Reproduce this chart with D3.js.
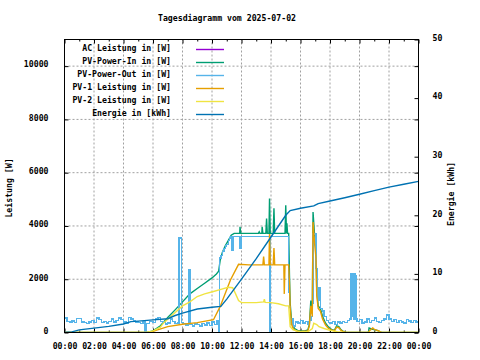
<!DOCTYPE html>
<html><head><meta charset="utf-8">
<script src="https://cdn.jsdelivr.net/npm/d3@7"></script>
<style>
body{margin:0;background:#fff}
svg text{font-family:"DejaVu Sans Mono",monospace;font-size:8.2px;font-weight:bold;fill:#000}
</style></head><body>
<svg id="c" width="480" height="360"></svg>
<script>
const title = "Tagesdiagramm vom 2025-07-02";
const yLabel = "Leistung [W]";
const y2Label = "Energie [kWh]";
const xTicks = [0,2,4,6,8,10,12,14,16,18,20,22,24];
const xMinorTicks = [1,3,5,7,9,11,13,15,17,19,21,23];
const yTicks = [0,2000,4000,6000,8000,10000];
const y2Ticks = [0,10,20,30,40,50];
const seriesNames = ["AC Leistung in [W]","PV-Power-In in [W]","PV-Power-Out in [W]","PV-1 Leistung in [W]","PV-2 Leistung in [W]","Energie in [kWh]"];
const seriesColors = ["#9400d3","#009e73","#56b4e9","#e69f00","#f0e442","#0072b2"];

// [hour, W]
const pvOut = [[0,540],[0.17,420],[0.33,400],[0.5,430],[0.67,380],[0.83,520],[1.0,530],[1.17,400],[1.33,380],[1.5,330],[1.67,400],[1.83,440],[2.0,380],[2.17,540],[2.33,480],[2.5,380],[2.67,420],[2.83,350],[3.0,420],[3.17,500],[3.33,400],[3.5,450],[3.67,550],[3.83,480],[4.0,400],[4.17,350],[4.33,560],[4.5,500],[4.67,430],[4.83,400],[5.0,380],[5.17,330],[5.33,400],[5.45,0],[5.55,330],[5.75,420],[6.0,380],[6.17,500],[6.33,560],[6.5,420],[6.67,380],[6.83,320],[7.0,360],[7.17,500],[7.33,420],[7.5,330],[7.67,350],[7.75,3550],[7.92,380],[8.08,330],[8.25,280],[8.42,2350],[8.5,300],[8.67,250],[8.83,320],[9.0,300],[9.17,250],[9.33,330],[9.5,280],[9.67,350],[9.83,270],[10.0,400],[10.17,300],[10.33,450],[10.45,0],[10.5,2800],[10.6,2900],[10.7,3050],[10.8,3150],[10.9,3250],[11.0,3300],[11.1,3450],[11.2,3550],[11.3,3600],[11.35,3100],[11.42,3600],[11.9,3150],[11.96,3600],[13.88,0],[13.94,3600],[15.2,1500],[15.27,950],[15.33,300],[15.42,500],[15.5,250],[15.67,400],[15.83,350],[16.0,450],[16.17,350],[16.33,420],[16.5,300],[16.6,450],[16.7,600],[16.8,1100],[16.85,3700],[17.05,2400],[17.15,1200],[17.25,1700],[17.35,900],[17.5,800],[17.6,600],[17.75,450],[17.9,380],[18.0,350],[18.17,420],[18.33,300],[18.5,400],[18.67,350],[18.83,420],[19.0,380],[19.17,450],[19.33,500],[19.42,2200],[19.48,600],[19.52,2100],[19.58,500],[19.62,2200],[19.7,2150],[19.76,500],[19.83,420],[20.0,480],[20.17,350],[20.33,400],[20.5,500],[20.67,380],[20.83,450],[21.0,550],[21.17,420],[21.33,380],[21.5,450],[21.67,500],[21.83,650],[22.0,500],[22.17,420],[22.33,480],[22.5,380],[22.67,450],[22.83,400],[23.0,350],[23.17,480],[23.33,430],[23.5,380],[23.67,450],[23.83,400],[24,300]];
// AC output follows PV output (hidden beneath it)
const acLeistung = pvOut;
const pvIn = [[0,0],[5.6,0],[6,60],[6.5,250],[7,560],[7.5,850],[8,1150],[8.5,1450],[9,1650],[9.5,1850],[10,2050],[10.3,2200],[10.45,2300],[10.55,2700],[10.7,3000],[10.9,3250],[11.1,3450],[11.3,3650],[11.5,3720],[11.88,3720],[11.9,3970],[11.95,3720],[13.15,3720],[13.2,3780],[13.25,3720],[13.38,3720],[13.4,3970],[13.45,3720],[13.65,3720],[13.7,4280],[13.75,3720],[13.86,3720],[13.9,5030],[13.95,3720],[14.15,3720],[14.2,4660],[14.25,3720],[14.95,3720],[15.0,4780],[15.05,3720],[15.08,4100],[15.12,3720],[15.2,3720],[15.25,2200],[15.3,1100],[15.4,400],[15.5,250],[15.6,150],[15.8,80],[16.0,60],[16.3,60],[16.5,100],[16.6,300],[16.7,1200],[16.8,700],[16.85,4520],[16.95,3700],[17.05,3300],[17.1,1600],[17.2,1000],[17.35,900],[17.5,600],[17.7,350],[17.9,200],[18.1,120],[18.3,80],[18.45,250],[18.6,220],[18.75,100],[18.9,40],[19.1,0],[20.6,0],[20.65,170],[20.9,120],[21.2,80],[21.5,0],[24,0]];
const pv1 = [[0,0],[5.8,0],[6.2,80],[7,220],[8,310],[9,370],[10.1,480],[10.55,970],[11.25,1970],[11.8,2560],[12.5,2540],[13.45,2540],[13.5,2850],[13.55,2540],[13.86,2540],[13.9,3700],[13.95,2540],[14.15,2540],[14.2,3170],[14.25,2540],[14.87,2540],[14.9,1450],[14.95,2540],[15.2,2540],[15.25,1900],[15.3,900],[15.4,300],[15.5,150],[15.7,60],[16.0,40],[16.5,60],[16.6,250],[16.7,1000],[16.8,600],[16.85,4150],[16.95,3360],[17.05,2800],[17.1,1400],[17.2,900],[17.35,800],[17.5,500],[17.7,280],[17.9,150],[18.1,100],[18.3,60],[18.45,200],[18.6,180],[18.75,80],[18.9,30],[19.1,0],[20.6,0],[20.7,80],[20.9,170],[21.0,120],[21.3,60],[21.5,0],[24,0]];
const pv2 = [[0,0],[5.6,0],[6.0,60],[6.5,200],[6.7,350],[7.3,650],[8.0,1000],[8.5,1150],[9.0,1350],[9.5,1450],[10.1,1540],[10.6,1620],[11.1,1700],[11.4,1680],[11.6,1450],[11.8,1200],[12.0,1120],[13.0,1120],[13.5,1150],[13.55,1250],[13.6,1130],[14.0,1120],[14.5,1080],[15.0,1000],[15.2,1000],[15.25,600],[15.3,220],[15.5,100],[15.8,50],[16.0,30],[16.5,30],[16.8,150],[16.9,350],[17.1,300],[17.25,220],[17.6,150],[18.0,80],[18.5,30],[19.0,0],[24,0]];
// [hour, kWh]
const energie = [[0,0],[0.5,0.1],[1,0.45],[2,0.75],[3,1.05],[4,1.45],[4.5,1.85],[5,1.95],[6,2.15],[7,2.35],[7.5,2.9],[8,3.3],[9,4.0],[10,4.3],[10.6,4.45],[11,5.7],[12,9.1],[13,12.6],[14,16.3],[15,20.0],[15.3,20.8],[16,21.2],[16.9,21.6],[17.2,22.0],[18,22.45],[19,23.0],[20,23.6],[21,24.2],[22,24.8],[23,25.3],[24,25.8]];

const L=64.5, R=418.5, T=39.5, B=332.5;
const svg = d3.select("#c");
const x = d3.scaleLinear().domain([0,24]).range([L,R]);
const y = d3.scaleLinear().domain([0,11000]).range([B,T]);
const y2 = d3.scaleLinear().domain([0,50]).range([B,T]);
const fmtH = d => String(d%24).padStart(2,"0")+":00";

// grid
const grid = svg.append("g").attr("stroke","#a0a0a0").attr("stroke-dasharray","2,2").attr("stroke-width",1);
xTicks.filter(d=>d>0&&d<24).forEach(d=>grid.append("line").attr("x1",x(d)).attr("x2",x(d)).attr("y1",B).attr("y2",T));
yTicks.filter(d=>d>0).forEach(d=>grid.append("line").attr("y1",y(d)).attr("y2",y(d)).attr("x1",L).attr("x2",R));

function styleAxis(g){ g.select(".domain").remove(); g.selectAll(".tick line").attr("stroke","#000"); g.selectAll("text").attr("font-family",null).attr("font-size",null); }

// axes with inward ticks
const xb = svg.append("g").attr("transform",`translate(0,${B})`).call(d3.axisBottom(x).tickValues(xTicks).tickFormat(fmtH).tickSizeInner(-4).tickSizeOuter(0).tickPadding(9));
styleAxis(xb); xb.selectAll("text").attr("dy","0.9em");
svg.append("g").attr("transform",`translate(0,${B})`).call(d3.axisBottom(x).tickValues(xMinorTicks).tickFormat("").tickSizeInner(-2).tickSizeOuter(0)).call(styleAxis);
svg.append("g").attr("transform",`translate(0,${T})`).call(d3.axisTop(x).tickValues(xTicks).tickFormat("").tickSizeInner(-4).tickSizeOuter(0)).call(styleAxis);
svg.append("g").attr("transform",`translate(0,${T})`).call(d3.axisTop(x).tickValues(xMinorTicks).tickFormat("").tickSizeInner(-2).tickSizeOuter(0)).call(styleAxis);
const yl = svg.append("g").attr("transform",`translate(${L},0)`).call(d3.axisLeft(y).tickValues(yTicks).tickFormat(d3.format("d")).tickSizeInner(-4).tickSizeOuter(0).tickPadding(16));
styleAxis(yl); yl.selectAll("text").attr("dy","0.1em");
svg.append("g").attr("transform",`translate(${R},0)`).call(d3.axisRight(y).tickValues(yTicks).tickFormat("").tickSizeInner(-4).tickSizeOuter(0)).call(styleAxis);
const yr = svg.append("g").attr("transform",`translate(${R},0)`).call(d3.axisRight(y2).tickValues(y2Ticks).tickFormat(d3.format("d")).tickSizeInner(-4).tickSizeOuter(0).tickPadding(14));
styleAxis(yr); yr.selectAll("text").attr("dy","0.1em");

// series
svg.append("clipPath").attr("id","pc").append("rect").attr("x",L).attr("y",T-8).attr("width",R-L).attr("height",B-T+8);
const plot = svg.append("g").attr("clip-path","url(#pc)");
const lineW = d3.line().x(d=>x(d[0])).y(d=>y(d[1]));
const lineWs = d3.line().x(d=>x(d[0])).y(d=>y(d[1])).curve(d3.curveStepAfter);
const lineE = d3.line().x(d=>x(d[0])).y(d=>y2(d[1]));
const series = [[acLeistung,lineWs,1],[pvIn,lineW,1.4],[pvOut,lineWs,1.4],[pv1,lineW,1.4],[pv2,lineW,1.4],[energie,lineE,1.4]];
series.forEach(([data,gen,w],i)=>{
  const p = plot.append("path").datum(data).attr("d",gen).attr("fill","none").attr("stroke",seriesColors[i]).attr("stroke-width",w);
  if (gen===lineWs) p.attr("shape-rendering","crispEdges");
});

// border
svg.append("rect").attr("x",L).attr("y",T).attr("width",R-L).attr("height",B-T).attr("fill","none").attr("stroke","#000").attr("stroke-width",1);

// legend
const lg = svg.append("g");
seriesNames.forEach((n,i)=>{
  lg.append("text").attr("x",171).attr("y",51+12.9*i).attr("text-anchor","end").text(n);
  lg.append("line").attr("x1",196).attr("x2",224).attr("y1",49.5+13*i).attr("y2",49.5+13*i).attr("stroke",seriesColors[i]).attr("stroke-width",1.4);
});

// titles
svg.append("text").attr("x",227).attr("y",21).attr("text-anchor","middle").text(title);
svg.append("text").attr("transform","translate(12,188) rotate(-90)").attr("text-anchor","middle").text(yLabel);
svg.append("text").attr("transform","translate(454,194) rotate(-90)").attr("text-anchor","middle").text(y2Label);
</script></body></html>
